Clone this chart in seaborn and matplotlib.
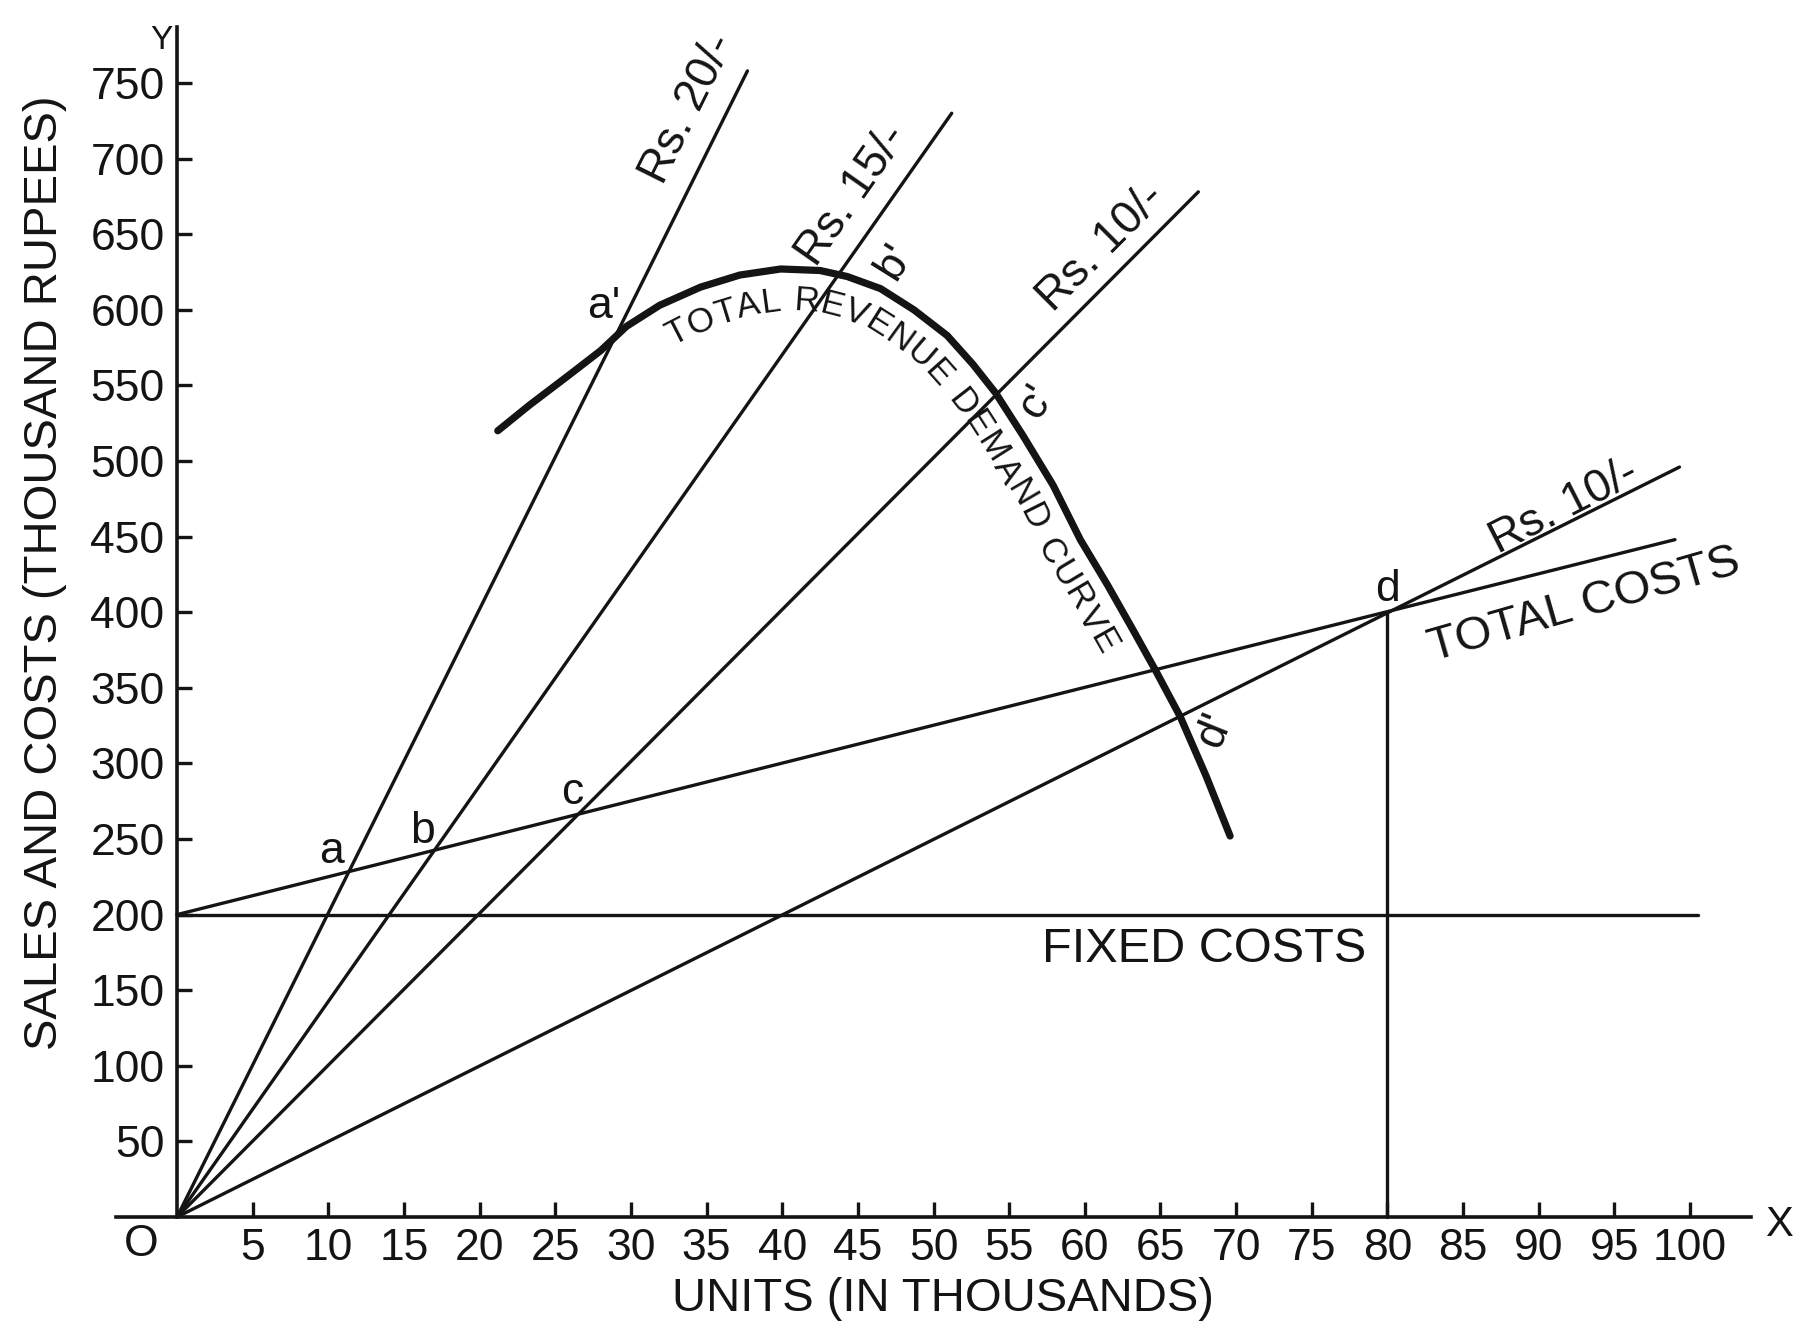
import matplotlib
matplotlib.use('Agg')
import matplotlib.pyplot as plt
from matplotlib.font_manager import FontProperties
import numpy as np
import seaborn as sns

# price lines from the origin (end points)
price_labels = ['Rs. 20/-', 'Rs. 15/-', 'Rs. 10/-', 'Rs. 10/-']
price_end_x = [37.7, 51.2, 67.5, 99.3]
price_end_y = [758, 730, 678, 496]

# cost lines
fixed_x = [0, 100.5]
fixed_y = [200, 200]
total_x = [0, 99.0]
total_y = [200, 448]

# total revenue / demand curve
tr_x = [21.2, 23.3, 25.8, 28.0, 29.7, 31.9, 34.6, 37.2, 39.9, 42.5,
        44.3, 46.5, 48.7, 50.9, 52.6, 54.1, 55.9, 57.9, 59.7, 61.5,
        63.2, 64.7, 66.3, 68.0, 69.6]
tr_y = [520, 537, 556, 573, 589, 603, 615, 623, 627, 626,
        622, 614, 600, 583, 564, 545, 517, 484, 448, 418,
        388, 361, 331, 292, 252]

# point labels
point_names = ['a', 'b', 'c', 'd', "a'", "b'", "c'", "d'"]
point_x = [10.2, 16.2, 26.1, 80.0, 28.2, 47.4, 56.8, 68.6]
point_y = [242, 255, 281, 415, 602, 632, 539, 322]

x_ticks = list(range(5, 101, 5))
y_ticks = list(range(50, 751, 50))

INK = '#141414'
FONT = ['Liberation Sans', 'DejaVu Sans']


def curve_text(ax, text, xs, ys, x_start, x_end, offset, size):
    """Write text letter by letter along (below) a curve."""
    pts = ax.transData.transform(np.column_stack([xs, ys]))
    seg = np.hypot(*np.diff(pts, axis=0).T)
    s = np.concatenate([[0], np.cumsum(seg)])
    t = np.gradient(pts, s, axis=0)
    t /= np.hypot(t[:, 0], t[:, 1])[:, None]
    n = np.column_stack([t[:, 1], -t[:, 0]])
    off = pts + offset * n
    so = np.concatenate([[0], np.cumsum(np.hypot(*np.diff(off, axis=0).T))])
    s0 = np.interp(x_start, xs, so)
    s1 = np.interp(x_end, xs, so)

    renderer = ax.figure.canvas.get_renderer()
    fp = FontProperties(family=FONT, size=size)
    widths = []
    for ch in text:
        w, h, d = renderer.get_text_width_height_descent(ch, fp, ismath=False)
        if ch == ' ' or w == 0:
            w = 0.3 * size * ax.figure.dpi / 72
        widths.append(w)
    widths = np.array(widths)
    extra = (s1 - s0 - widths.sum()) / (len(text) - 1)
    inv = ax.transData.inverted()
    pos = s0
    for ch, w in zip(text, widths):
        sc = pos + w / 2
        px = np.interp(sc, so, off[:, 0])
        py = np.interp(sc, so, off[:, 1])
        x0 = np.interp(sc - 14, so, off[:, 0])
        y0 = np.interp(sc - 14, so, off[:, 1])
        x1 = np.interp(sc + 14, so, off[:, 0])
        y1 = np.interp(sc + 14, so, off[:, 1])
        ang = np.degrees(np.arctan2(y1 - y0, x1 - x0))
        dx, dy = inv.transform((px, py))
        if ch != ' ':
            ax.text(dx, dy, ch, rotation=ang, rotation_mode='anchor',
                    ha='center', va='center', fontsize=size, color=INK,
                    family=FONT)
        pos += w + extra


def main():
    sns.set_theme(style='white')
    plt.rcParams['font.family'] = FONT

    fig = plt.figure(figsize=(18.03, 13.30), dpi=100)
    ax = fig.add_axes([0.03943, 0.06789, 0.95668, 0.92654])
    ax.set_xlim(-7, 107)
    ax.set_ylim(-15, 800)

    lw = 2.4
    for xe, ye in zip(price_end_x, price_end_y):
        sns.lineplot(x=[0, xe], y=[0, ye], ax=ax, color=INK, lw=lw,
                     estimator=None, sort=False)
    sns.lineplot(x=fixed_x, y=fixed_y, ax=ax, color=INK, lw=lw,
                 estimator=None, sort=False)
    sns.lineplot(x=total_x, y=total_y, ax=ax, color=INK, lw=lw,
                 estimator=None, sort=False)
    sns.lineplot(x=[80, 80], y=[0, 400], ax=ax, color=INK, lw=lw,
                 estimator=None, sort=False)
    sns.lineplot(x=tr_x, y=tr_y, ax=ax, color=INK, lw=5.2,
                 estimator=None, sort=False, solid_capstyle='round',
                 solid_joinstyle='round')

    # axes drawn as spines through the origin
    for side in ['top', 'right']:
        ax.spines[side].set_visible(False)
    ax.spines['left'].set_position(('data', 0))
    ax.spines['bottom'].set_position(('data', 0))
    ax.spines['left'].set_bounds(0, 787)
    ax.spines['bottom'].set_bounds(-4, 104)
    for side in ['left', 'bottom']:
        ax.spines[side].set_color(INK)
        ax.spines[side].set_linewidth(2.6)

    ax.set_xticks(x_ticks)
    ax.set_yticks(y_ticks)
    ax.set_xticklabels([str(v) for v in x_ticks])
    ax.set_yticklabels([str(v) for v in y_ticks])
    ax.tick_params(axis='both', direction='in', length=11, width=2.4,
                   color=INK, labelsize=32, labelcolor=INK)
    ax.tick_params(axis='x', pad=8, bottom=True)
    ax.tick_params(axis='y', pad=9, left=True)
    ax.set_xlabel('')
    ax.set_ylabel('')

    ax.text(-2.4, -18, 'O', fontsize=32, ha='center', va='center', color=INK)
    ax.text(-0.3, 778, 'Y', fontsize=24, ha='right', va='center', color=INK)
    ax.text(105.9, -5, 'X', fontsize=30, ha='center', va='center', color=INK)

    ax.text(50.6, -54, 'UNITS (IN THOUSANDS)', fontsize=34, ha='center',
            va='center', color=INK)
    ax.text(-8.7, 426, 'SALES AND COSTS (THOUSAND RUPEES)', fontsize=34,
            rotation=90, ha='center', va='center', color=INK)

    # line labels
    lab_x = [33.8, 44.6, 61.1, 91.7]
    lab_y = [733, 676, 641, 470]
    lab_rot = [63.5, 55, 45, 27]
    for name, x, y, r in zip(price_labels, lab_x, lab_y, lab_rot):
        ax.text(x, y, name, fontsize=33, rotation=r, ha='center',
                va='center', rotation_mode='anchor', color=INK)
    ax.text(93.0, 405, 'TOTAL COSTS', fontsize=34, rotation=16,
            ha='center', va='center', rotation_mode='anchor', color=INK)
    ax.text(67.9, 177, 'FIXED COSTS', fontsize=35, ha='center',
            va='center', color=INK)

    rots = [0, 0, 0, 0, 0, 58, 58, 68]
    for name, x, y, r in zip(point_names, point_x, point_y, rots):
        ax.text(x, y, name, fontsize=32, rotation=r, ha='center',
                va='center', rotation_mode='anchor', color=INK)

    curve_text(ax, 'TOTAL REVENUE DEMAND CURVE', tr_x, tr_y,
               31.4, 63.4, 32, 25)

    fig.savefig('out.png', dpi=100)
    plt.close(fig)


if __name__ == '__main__':
    main()
